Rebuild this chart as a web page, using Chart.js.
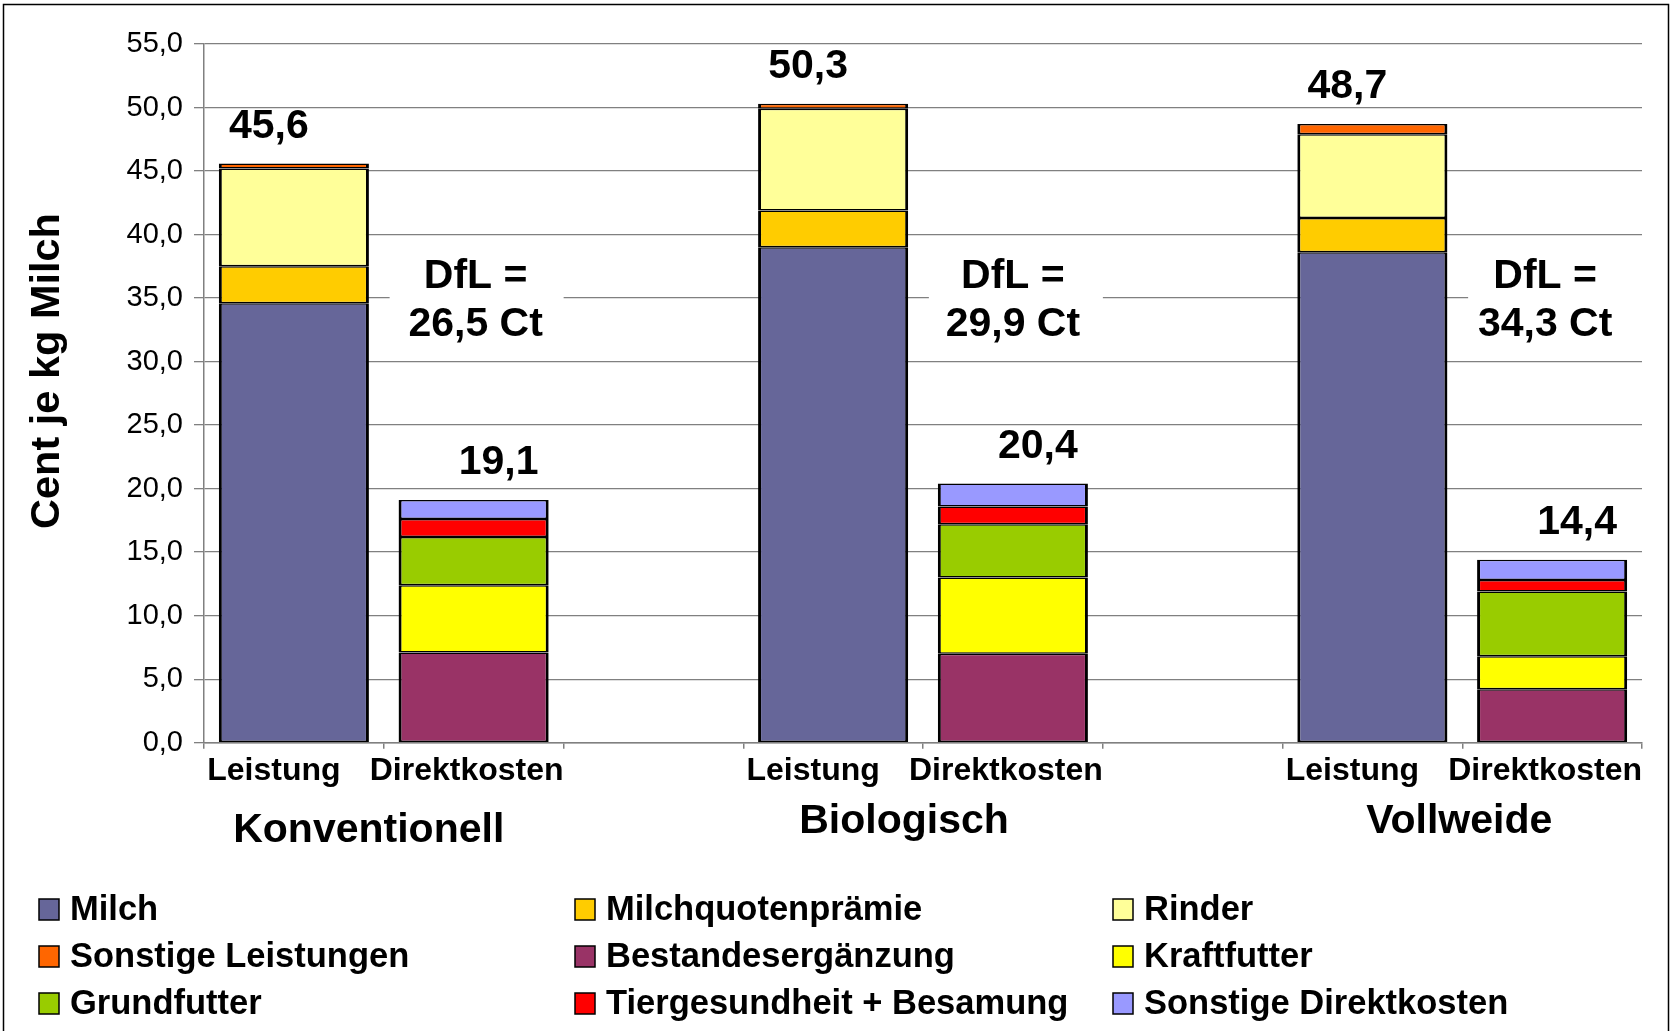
<!DOCTYPE html>
<html>
<head>
<meta charset="utf-8">
<script src="https://cdn.jsdelivr.net/npm/chart.js@4.4.1/dist/chart.umd.min.js"></script>
<style>
  body { margin: 0; background: #fff; }
  canvas { display: block; }
</style>
</head>
<body>
<canvas id="myChart" width="1671" height="1031"></canvas>
<script>
// x categories (blank slots separate the three groups)
const categories = ['Leistung', 'Direktkosten', '', 'Leistung', 'Direktkosten', '', 'Leistung', 'Direktkosten'];
const groups = ['Konventionell', 'Biologisch', 'Vollweide'];

// Leistung (per group: Konventionell, Biologisch, Vollweide)
const milch = [34.6, 39.0, 38.6];
const milchquote = [2.9, 2.9, 2.7];
const rinder = [7.7, 8.0, 6.6];
const sonstLeistung = [0.4, 0.4, 0.8];

// Direktkosten
const bestand = [7.1, 7.0, 4.2];
const kraftfutter = [5.3, 6.0, 2.6];
const grundfutter = [3.8, 4.2, 5.1];
const tiergesundheit = [1.4, 1.4, 0.9];
const sonstDirekt = [1.5, 1.8, 1.6];

const yTicks = [0, 5, 10, 15, 20, 25, 30, 35, 40, 45, 50, 55];

const leistungIdx = [0, 3, 6];
const direktIdx = [1, 4, 7];

function spread(values, idx) {
    const out = categories.map(() => null);
    idx.forEach((k, i) => { out[k] = values[i]; });
    return out;
}

const font = 'Arial, "Liberation Sans", sans-serif';

const series = [
    { label: 'Milch', values: milch, idx: leistungIdx, color: '#666699' },
    { label: 'Milchquotenprämie', values: milchquote, idx: leistungIdx, color: '#ffcc00' },
    { label: 'Rinder', values: rinder, idx: leistungIdx, color: '#ffff99' },
    { label: 'Sonstige Leistungen', values: sonstLeistung, idx: leistungIdx, color: '#ff6600' },
    { label: 'Bestandesergänzung', values: bestand, idx: direktIdx, color: '#993366' },
    { label: 'Kraftfutter', values: kraftfutter, idx: direktIdx, color: '#ffff00' },
    { label: 'Grundfutter', values: grundfutter, idx: direktIdx, color: '#99cc00' },
    { label: 'Tiergesundheit + Besamung', values: tiergesundheit, idx: direktIdx, color: '#ff0000' },
    { label: 'Sonstige Direktkosten', values: sonstDirekt, idx: direktIdx, color: '#9999ff' }
];

const datasets = series.map(s => ({
    label: s.label,
    data: spread(s.values, s.idx),
    backgroundColor: s.color,
    borderColor: '#000',
    borderWidth: { left: 3, right: 3, top: 1.5, bottom: 1.5 },
    borderSkipped: false,
    stack: 'a',
    categoryPercentage: 1.0,
    barPercentage: 0.835
}));

function fmt(v) { return v.toFixed(1).replace('.', ','); }

function stackTotal(k) {
    return datasets.reduce((sum, d) => sum + (d.data[k] || 0), 0);
}

const annotations = {
    id: 'annotations',
    afterDatasetsDraw(chart) {
        const ctx = chart.ctx;
        const x = chart.scales.x;
        const y = chart.scales.y;
        ctx.save();
        ctx.fillStyle = '#000';
        ctx.textAlign = 'center';
        ctx.textBaseline = 'middle';
        ctx.font = 'bold 41px ' + font;

        // totals above bars
        leistungIdx.forEach(k => {
            ctx.fillText(fmt(stackTotal(k)), x.getPixelForValue(k) - 25, y.getPixelForValue(stackTotal(k)) - 37);
        });
        direktIdx.forEach(k => {
            ctx.fillText(fmt(stackTotal(k)), x.getPixelForValue(k) + 25, y.getPixelForValue(stackTotal(k)) - 37);
        });

        // DfL boxes
        const dflDx = [2, 0, -7];
        direktIdx.forEach((k, i) => {
            const cx = x.getPixelForValue(k);
            const top = y.getPixelForValue(39.2);
            const bottom = y.getPixelForValue(30.9);
            ctx.fillStyle = '#fff';
            ctx.fillRect(cx - 84, top, 174, bottom - top);
            ctx.fillStyle = '#000';
            const dfl = stackTotal(leistungIdx[i]) - stackTotal(k);
            ctx.fillText('DfL =', cx + dflDx[i], y.getPixelForValue(36.7));
            ctx.fillText(fmt(dfl) + ' Ct', cx + dflDx[i], y.getPixelForValue(32.9));
        });

        // category labels
        ctx.font = 'bold 32px ' + font;
        categories.forEach((c, k) => {
            if (!c) return;
            const dx = c === 'Leistung' ? -20 : -7;
            ctx.fillText(c, x.getPixelForValue(k) + dx, 771);
        });

        // group labels
        ctx.font = 'bold 41px ' + font;
        const groupDx = [-15, -19, -3];
        const groupY = [831, 822, 822];
        groups.forEach((g, i) => {
            const cx = (x.getPixelForValue(leistungIdx[i]) + x.getPixelForValue(direktIdx[i])) / 2;
            ctx.fillText(g, cx + groupDx[i], groupY[i]);
        });
        ctx.restore();
    },
    afterDraw(chart) {
        const ctx = chart.ctx;
        ctx.save();
        // y axis title
        ctx.fillStyle = '#000';
        ctx.font = 'bold 41.5px ' + font;
        ctx.textAlign = 'center';
        ctx.textBaseline = 'middle';
        ctx.translate(48, 371);
        ctx.rotate(-Math.PI / 2);
        ctx.fillText('Cent je kg Milch', 0, 0);
        ctx.restore();

        // legend, three columns
        ctx.save();
        const colX = [39, 575, 1113];
        const rowY = [909, 956, 1003];
        ctx.font = 'bold 34.5px ' + font;
        ctx.textBaseline = 'middle';
        ctx.textAlign = 'left';
        chart.data.datasets.forEach((d, i) => {
            const bx = colX[i % 3];
            const by = rowY[Math.floor(i / 3)];
            ctx.fillStyle = d.backgroundColor;
            ctx.fillRect(bx, by - 10, 20, 21);
            ctx.strokeStyle = '#000';
            ctx.lineWidth = 1.5;
            ctx.strokeRect(bx, by - 10, 20, 21);
            ctx.fillStyle = '#000';
            ctx.fillText(d.label, bx + 31, by + 1);
        });
        ctx.restore();

        // outer frame
        ctx.save();
        ctx.strokeStyle = '#000';
        ctx.lineWidth = 1.5;
        ctx.strokeRect(3.5, 4.5, 1665, 1100);
        ctx.restore();
    }
};

const ctx = document.getElementById('myChart').getContext('2d');
const chart = new Chart(ctx, {
    type: 'bar',
    data: { labels: categories, datasets: datasets },
    options: {
        responsive: false,
        animation: false,
        layout: { padding: { top: 44, right: 29, left: 0, bottom: 0 } },
        plugins: {
            legend: { display: false },
            tooltip: { enabled: false }
        },
        scales: {
            x: {
                stacked: true,
                grid: { display: true, drawOnChartArea: false, drawTicks: true, tickLength: 6, offset: true, color: '#808080', lineWidth: 1.5 },
                border: { color: '#808080', width: 1.5 },
                ticks: { display: false },
                afterFit(scale) { scale.height = 1031 - 742.7; }
            },
            y: {
                stacked: true,
                min: 0,
                max: 55,
                afterBuildTicks(scale) { scale.ticks = yTicks.map(v => ({ value: v })); },
                grid: { color: '#808080', lineWidth: 1.3, tickLength: 10 },
                border: { color: '#808080', width: 1.5 },
                ticks: { color: '#000', font: { family: font, size: 29 }, padding: 11, callback: v => fmt(v) },
                afterFit(scale) { scale.width = 204; }
            }
        }
    },
    plugins: [annotations]
});
</script>
</body>
</html>
